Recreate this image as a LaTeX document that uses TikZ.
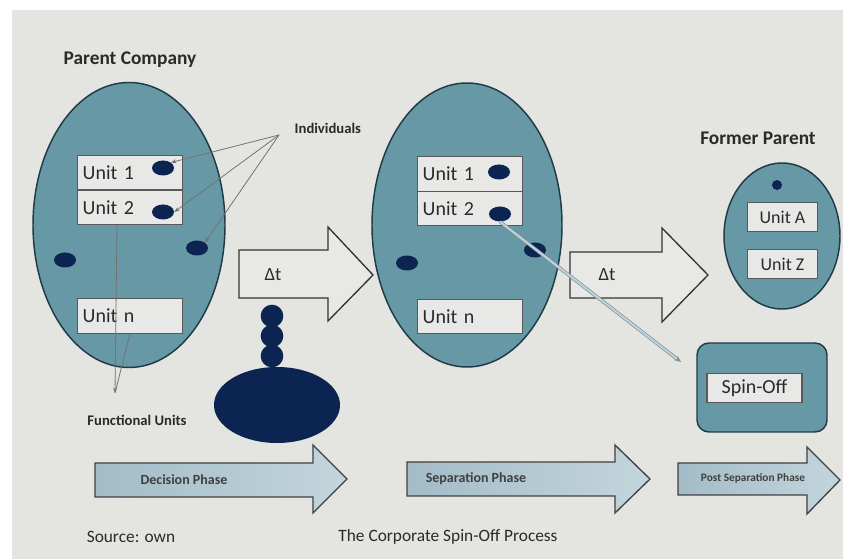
\documentclass[tikz,border=0pt]{standalone}
\usepackage{fontspec}
\setmainfont{Carlito}
\usetikzlibrary{shapes.geometric,arrows.meta}
\definecolor{bg}{HTML}{E4E4E0}
\definecolor{teal}{HTML}{6699A5}
\definecolor{tealdark}{HTML}{1F3C46}
\definecolor{boxfill}{HTML}{E8E8E6}
\definecolor{navy}{HTML}{0C2452}
\definecolor{txt}{HTML}{2A2A2A}
\definecolor{phaseL}{HTML}{A3BCC8}
\definecolor{phaseR}{HTML}{C4D5DC}
\tikzset{
  company/.style={ellipse, draw=tealdark, line width=1.1pt, fill=teal},
  unitbox/.style={draw=black!65, line width=0.8pt, fill=boxfill, minimum height=26pt,
     text width=71pt, align=left, inner sep=4pt, font=\fontsize{15}{15}\selectfont, text=txt},
  smallbox/.style={draw=black!65, line width=0.8pt, fill=boxfill, minimum height=22pt,
     minimum width=53pt, inner sep=2pt, font=\fontsize{13.5}{13.5}\selectfont, text=txt},
  person/.style={ellipse, fill=navy, minimum width=16.5pt, minimum height=11.25pt, inner sep=0pt},
  bead/.style={circle, fill=navy, minimum size=17pt, inner sep=0pt},
  label/.style={font=\bfseries\fontsize{14.5}{14.5}\selectfont, text=txt},
  note/.style={font=\bfseries\fontsize{11}{11}\selectfont, text=txt},
  phasetxt/.style={font=\bfseries\fontsize{10.5}{10.5}\selectfont, text=black!75},
  caption/.style={font=\fontsize{13}{13}\selectfont, text=txt},
  timearrow/.style={draw=black!80, line width=1pt, fill=boxfill},
  phasearrow/.style={draw=black!75, line width=1pt, left color=phaseL, right color=phaseR},
  pointer/.style={draw=black!55, line width=0.6pt, -{Stealth[length=4pt,width=3pt]}},
}
\begin{document}
\begin{tikzpicture}[x=0.75pt,y=-0.75pt]
\fill[white] (0,0) rectangle (843,559);
\fill[bg] (12,10) rectangle (843,559);
\useasboundingbox (0,0) rectangle (843,559);

% ---------- Parent company ----------
\node[label] (pc) at (130,60) {Parent Company};
\node[company, minimum width=144pt, minimum height=213.75pt] (e1) at (129,225) {};
\node[unitbox] (u1a) at (130,172.5) {Unit 1};
\node[unitbox] (u2a) at (130,207.5) {Unit 2};
\node[unitbox] (una) at (130,316) {Unit n};
\node[person] (p1a) at (163,168) {};
\node[person] (p2a) at (163,212) {};
\node[person] (pla) at (65,260) {};
\node[person] (pra) at (197,248) {};

\node[note, anchor=west] (ind) at (290,128) {Individuals};
\coordinate (indp) at (279,135);
\draw[pointer] (indp) -- (p1a.north east);
\draw[pointer] (indp) -- (p2a.east);
\draw[pointer] (indp) -- (pra.north east);

\node[note] (fu) at (137,420) {Functional Units};
\coordinate (fup) at (115,393);
\draw[pointer] (u2a.south -| 117,0) -- (fup);
\draw[draw=black!55, line width=0.6pt] (una.south -| 130,0) -- (fup);

% ---------- trigger ----------
\node[bead] (b1) at (272,316) {};
\node[bead] (b2) at (272,336) {};
\node[bead] (b3) at (272,356) {};
\node[ellipse, fill=navy, minimum width=94.5pt, minimum height=57pt] (trig) at (277,405) {};

% ---------- delta t arrows ----------
\draw[timearrow] (239,250) -- (328,250) -- (328,227) -- (373,275) -- (328,321) -- (328,298) -- (239,298) -- cycle;
\node[font=\fontsize{14}{14}\selectfont, text=txt] (dt1) at (273,275) {Δt};
\draw[timearrow] (570,252) -- (662,252) -- (662,228) -- (708,275) -- (662,322) -- (662,298) -- (570,298) -- cycle;
\node[font=\fontsize{14}{14}\selectfont, text=txt] (dt2) at (607,275) {Δt};

% ---------- separation ellipse ----------
\node[company, minimum width=142.5pt, minimum height=213pt] (e2) at (467,225) {};
\node[unitbox] (u1b) at (470,174) {Unit 1};
\node[unitbox] (u2b) at (470,208.5) {Unit 2};
\node[unitbox] (unb) at (470,316.5) {Unit n};
\node[person] (p1b) at (499,172) {};
\node[person] (p2b) at (500,214) {};
\node[person] (plb) at (407,263) {};
\node[person] (prb) at (535,250) {};

% ---------- former parent ----------
\node[label] (fp) at (758,138) {Former Parent};
\node[company, minimum width=87pt, minimum height=109.5pt] (e3) at (782,236) {};
\node[circle, fill=navy, minimum size=7.5pt, inner sep=0pt] (p3) at (777,185) {};
\node[smallbox] (ua) at (782.5,217) {Unit A};
\node[smallbox] (uz) at (782.5,264) {Unit Z};

% ---------- spin-off ----------
\node[draw=tealdark, line width=1.1pt, fill=teal, rounded corners=9pt, minimum width=97.5pt, minimum height=66.75pt] (so) at (762,387.5) {};
\node[smallbox, minimum width=71.25pt, font=\fontsize{15}{15}\selectfont] (sot) at (754.5,388) {Spin-Off};
\coordinate (soin) at (681,362);
\draw[draw=black!45, line width=0.5pt, double=cyan!25!teal!45, double distance=1.6pt, -{Stealth[length=5pt,width=4pt]}] (p2b.south) -- (soin);

% ---------- phases ----------
\draw[phasearrow] (95,463) -- (313,463) -- (313,445) -- (347,479) -- (313,513) -- (313,497) -- (95,497) -- cycle;
\node[phasetxt] (ph1) at (184,480) {Decision Phase};
\draw[phasearrow] (407,462) -- (615,462) -- (615,445) -- (650,479) -- (615,513) -- (615,496) -- (407,496) -- cycle;
\node[phasetxt] (ph2) at (476,479) {Separation Phase};
\draw[phasearrow] (678,463) -- (807,463) -- (807,447) -- (840,480) -- (807,514) -- (807,495) -- (678,495) -- cycle;
\node[phasetxt, font=\bfseries\fontsize{8.5}{8.5}\selectfont] (ph3) at (753,478) {Post Separation Phase};

% ---------- captions ----------
\node[caption] (src) at (131,537) {Source: own};
\node[caption] (ttl) at (448,537) {The Corporate Spin-Off Process};
\end{tikzpicture}
\end{document}
